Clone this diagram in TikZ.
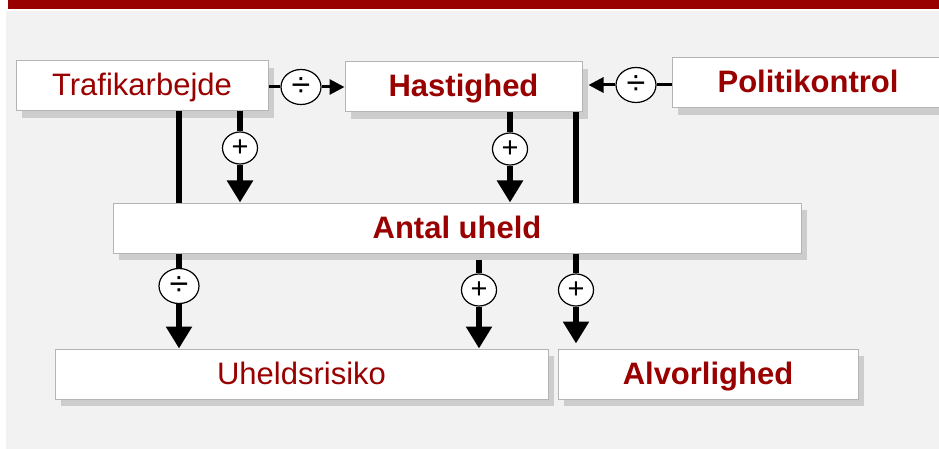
\documentclass[tikz,border=0pt]{standalone}
\usepackage{fontspec}
\setmainfont{Liberation Sans}
\usetikzlibrary{arrows.meta,shapes.geometric,shadows}
\definecolor{dred}{HTML}{990000}
\definecolor{bggray}{HTML}{F2F2F2}
\definecolor{bordergray}{HTML}{B4B4B4}
\pgfdeclarelayer{back}
\pgfdeclarelayer{lines}
\pgfsetlayers{back,lines,main}
\begin{document}
\begin{tikzpicture}[x=1pt,y=-1pt,
  box/.style={draw=bordergray, line width=1pt, fill=white, minimum height=50pt,
    inner sep=0pt, text height=24pt, text depth=4pt, text=dred, font=\fontsize{31}{36}\selectfont,
    drop shadow={shadow xshift=6pt, shadow yshift=-7pt, fill=black, opacity=0.15}},
  bbox/.style={box, font=\fontsize{31}{36}\selectfont\bfseries},
  sign/.style={ellipse, draw=black, line width=1.2pt, fill=white, inner sep=0pt,
    minimum width=35pt, minimum height=32pt, font=\fontsize{29}{30}\selectfont},
  dsign/.style={sign, minimum width=40pt, minimum height=35pt, font=\fontsize{34}{34}\selectfont},
  vline/.style={line width=6pt},
  varrow/.style={line width=6pt, -{Triangle[width=25pt,length=22pt]}},
  hline/.style={line width=3pt},
  harrow/.style={line width=3pt, -{Triangle[width=15pt,length=15pt]}},
]
\useasboundingbox (0,0) rectangle (939,449);
\clip (0,0) rectangle (939,449);
\begin{pgfonlayer}{back}
  \fill[white] (0,0) rectangle (939,449);
  \fill[dred] (8,0) rectangle (939,9);
  \fill[bggray] (6,11) rectangle (939,449);
\end{pgfonlayer}

% boxes
\node[box,  minimum width=252pt] (ta) at (142,86)   {Trafikarbejde};
\node[bbox, minimum width=237pt] (ha) at (463.5,87) {Hastighed};
\node[bbox, minimum width=272pt] (po) at (808,83)   {Politikontrol};
\node[bbox, minimum width=688pt] (au) at (457,228)  {Antal uheld};
\node[box,  minimum width=493pt] (ur) at (301.5,374) {Uheldsrisiko};
\node[bbox, minimum width=300pt] (al) at (708,374)  {Alvorlighed};

% signs
\node[dsign] (d1) at (301,87)  {÷};
\node[dsign] (d2) at (636,85)  {÷};
\node[sign]  (p1) at (240,148) {+};
\node[sign]  (p2) at (510,149) {+};
\node[dsign] (d3) at (179,286) {÷};
\node[sign]  (p3) at (479,290) {+};
\node[sign]  (p4) at (576,290) {+};

\begin{pgfonlayer}{lines}
  % Trafikarbejde -> Hastighed
  \draw[hline] (ta.east |- d1) -- (d1.west);
  \draw[harrow] (d1.east) -- (ha.west |- d1);
  % Politikontrol -> Hastighed
  \draw[hline] (po.west |- d2) -- (d2.east);
  \draw[harrow] (d2.west) -- ([xshift=6pt]ha.east |- d2);
  % Trafikarbejde -> Antal uheld
  \draw[vline] (ta.south -| p1) -- (p1.north);
  \draw[varrow] (p1.south) -- (au.north -| p1);
  % Hastighed -> Antal uheld
  \draw[vline] (ha.south -| p2) -- (p2.north);
  \draw[varrow] (p2.south) -- (au.north -| p2);
  % Trafikarbejde -> Uheldsrisiko (behind Antal uheld)
  \draw[vline] (ta.south -| d3) -- (d3.north);
  \draw[varrow] (d3.south) -- (ur.north -| d3);
  % Antal uheld -> Uheldsrisiko
  \draw[vline] ([yshift=-6pt]au.south -| p3) -- (p3.north);
  \draw[varrow] (p3.south) -- (ur.north -| p3);
  % Hastighed -> Alvorlighed (behind Antal uheld)
  \draw[vline] (ha.south -| p4) -- (p4.north);
  \draw[varrow] (p4.south) -- ([yshift=5pt]al.north -| p4);
\end{pgfonlayer}
\end{tikzpicture}
\end{document}
